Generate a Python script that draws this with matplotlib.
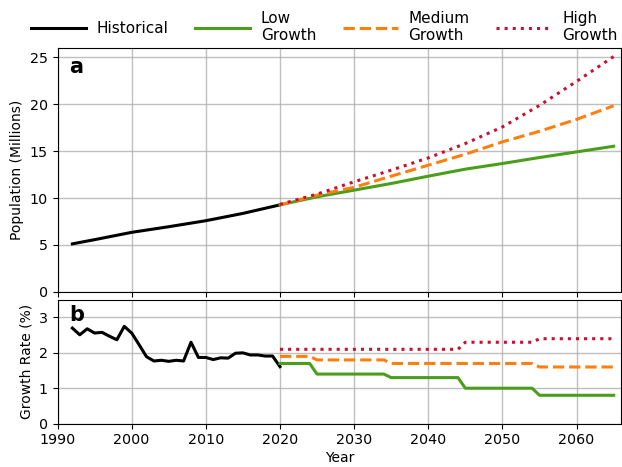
"""
Population and growth-rate projections: historical series plus three scenarios.
"""

import matplotlib

matplotlib.use("Agg")
import matplotlib.pyplot as plt

# Historical population (millions)
hist_pop_years = [1992, 1995, 2000, 2005, 2010, 2015, 2020]
hist_pop = [5.12, 5.57, 6.35, 6.95, 7.59, 8.37, 9.28]

# Historical annual growth rate (%)
hist_rate_years = list(range(1992, 2021))
hist_rate = [
    2.70, 2.51, 2.68, 2.56, 2.58, 2.47, 2.37, 2.75, 2.56, 2.23,
    1.89, 1.77, 1.79, 1.76, 1.79, 1.77, 2.30, 1.87, 1.87, 1.81,
    1.86, 1.85, 1.99, 2.00, 1.94, 1.94, 1.91, 1.91, 1.61,
]

# Projected population (millions), read every 5 years
proj_years = [2020, 2025, 2030, 2035, 2040, 2045, 2050, 2055, 2060, 2065]
low_pop = [9.28, 10.14, 10.85, 11.56, 12.34, 13.09, 13.69, 14.33, 14.93, 15.53]
medium_pop = [9.28, 10.32, 11.15, 12.34, 13.51, 14.68, 16.00, 17.13, 18.40, 19.85]
high_pop = [9.33, 10.43, 11.74, 12.98, 14.29, 15.82, 17.59, 19.89, 22.45, 25.10]

# Projected growth rate (%) by scenario, as step points
low_rate_years = [2020, 2024, 2025, 2034, 2035, 2044, 2045, 2054, 2055, 2065]
low_rate = [1.7, 1.7, 1.4, 1.4, 1.3, 1.3, 1.0, 1.0, 0.8, 0.8]
medium_rate_years = [2020, 2024, 2025, 2034, 2035, 2054, 2055, 2065]
medium_rate = [1.9, 1.9, 1.8, 1.8, 1.7, 1.7, 1.6, 1.6]
high_rate_years = [2020, 2044, 2045, 2054, 2055, 2065]
high_rate = [2.1, 2.1, 2.3, 2.3, 2.4, 2.4]

HIST_COLOR = "black"
LOW_COLOR = "#4a9e1c"
MEDIUM_COLOR = "#ff7f0e"
HIGH_COLOR = "#c8102e"
LW = 2.2

fig = plt.figure(figsize=(6.22, 4.67), dpi=100)
ax_pop = fig.add_axes([0.0925, 0.375, 0.906, 0.522])
ax_rate = fig.add_axes([0.0925, 0.093, 0.906, 0.265], sharex=ax_pop)

# Panel a: population
ax_pop.plot(hist_pop_years, hist_pop, color=HIST_COLOR, lw=LW, label="Historical")
ax_pop.plot(proj_years, low_pop, color=LOW_COLOR, lw=LW, label="Low\nGrowth")
ax_pop.plot(proj_years, medium_pop, color=MEDIUM_COLOR, lw=LW, ls="--",
            label="Medium\nGrowth")
ax_pop.plot(proj_years, high_pop, color=HIGH_COLOR, lw=LW, ls=":",
            label="High\nGrowth")
ax_pop.set_ylim(0, 26)
ax_pop.set_yticks([0, 5, 10, 15, 20, 25])
ax_pop.set_ylabel("Population (Millions)")
ax_pop.grid(True, color="#b0b0b0", lw=1, alpha=0.8)
ax_pop.tick_params(labelbottom=False, labelsize=10.3)
ax_pop.text(0.02, 0.965, "a", transform=ax_pop.transAxes, fontsize=15,
            fontweight="bold", va="top", ha="left")

# Panel b: growth rate
ax_rate.plot(hist_rate_years, hist_rate, color=HIST_COLOR, lw=LW)
ax_rate.plot(low_rate_years, low_rate, color=LOW_COLOR, lw=LW)
ax_rate.plot(medium_rate_years, medium_rate, color=MEDIUM_COLOR, lw=LW, ls="--")
ax_rate.plot(high_rate_years, high_rate, color=HIGH_COLOR, lw=LW, ls=":")
ax_rate.set_ylim(0, 3.5)
ax_rate.set_yticks([0, 1, 2, 3])
ax_rate.set_ylabel("Growth Rate (%)")
ax_rate.set_xlabel("Year", labelpad=3)
ax_rate.tick_params(labelsize=10.3)
ax_rate.grid(True, color="#b0b0b0", lw=1, alpha=0.8)
ax_rate.text(0.02, 0.96, "b", transform=ax_rate.transAxes, fontsize=15,
             fontweight="bold", va="top", ha="left")

ax_pop.set_xlim(1990, 2066)
ax_pop.set_xticks(range(1990, 2061, 10))

handles, labels = ax_pop.get_legend_handles_labels()
fig.legend(handles, labels, loc="upper center", bbox_to_anchor=(0.521, 1.006),
           ncol=4, frameon=False, fontsize=11, handlelength=3.6,
           columnspacing=1.75, handletextpad=0.7)

plt.savefig("out.png", dpi=100)
plt.close()
